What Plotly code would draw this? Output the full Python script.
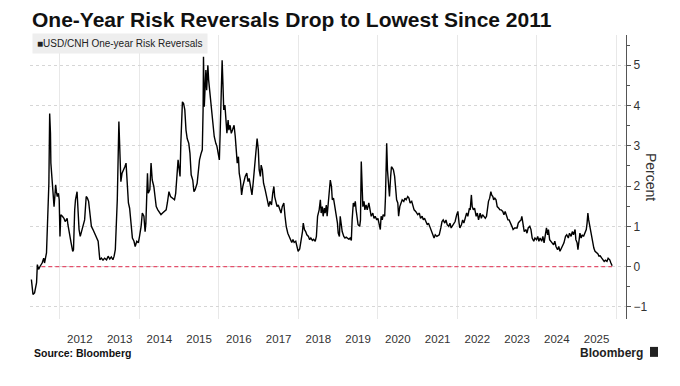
import plotly.graph_objects as go
from datetime import datetime, timedelta

# ---- Data (decimal year, percent) ----
t_2011_13 = [2011.28, 2011.30, 2011.32, 2011.36, 2011.39, 2011.41, 2011.43, 2011.46, 2011.50, 2011.55,
             2011.59, 2011.61, 2011.66, 2011.68, 2011.70, 2011.72, 2011.74, 2011.76, 2011.77, 2011.80,
             2011.82, 2011.85, 2011.87, 2011.89, 2011.91, 2011.93, 2011.96, 2011.98,
             2012.00, 2012.02, 2012.06, 2012.10, 2012.13, 2012.18, 2012.20, 2012.24, 2012.28, 2012.32,
             2012.34, 2012.37, 2012.39, 2012.43, 2012.45, 2012.48, 2012.51, 2012.54, 2012.58, 2012.62,
             2012.66, 2012.69, 2012.72, 2012.76, 2012.79, 2012.83, 2012.87, 2012.91, 2012.96,
             2013.00, 2013.04, 2013.08, 2013.12, 2013.17, 2013.21, 2013.25, 2013.29, 2013.33, 2013.36,
             2013.39, 2013.42, 2013.44, 2013.48, 2013.50, 2013.53, 2013.56, 2013.60, 2013.63, 2013.66, 2013.68]
v_2011_13 = [-0.32, -0.57, -0.69, -0.65, -0.53, -0.40, 0.05, -0.07, 0.01, 0.09,
             0.21, 0.09, 0.34, 0.92, 1.00, 2.07, 3.80, 3.31, 2.57, 2.07,
             1.91, 1.49, 1.74, 2.03, 1.86, 1.74, 1.82, 1.66,
             0.75, 1.29, 1.25, 1.20, 1.12, 1.20, 1.04, 0.75, 0.59, 0.38,
             0.42, 1.41, 1.66, 1.86, 1.49, 0.92, 0.75, 0.87, 1.00, 1.16,
             1.74, 1.70, 1.62, 1.25, 1.00, 0.92, 0.83, 0.75, 0.63,
             0.17, 0.21, 0.16, 0.21, 0.17, 0.26, 0.19, 0.24, 0.17, 0.26,
             0.42, 1.08, 1.66, 3.60, 2.73, 2.11, 2.32, 2.40, 2.48, 2.57, 2.32]

t_2013_16 = [2013.72, 2013.75, 2013.79, 2013.82, 2013.86, 2013.89, 2013.93, 2013.97,
             2014.00, 2014.04, 2014.07, 2014.11, 2014.14, 2014.16, 2014.20, 2014.22, 2014.26, 2014.29,
             2014.32, 2014.36, 2014.39, 2014.42, 2014.46, 2014.50, 2014.54, 2014.58, 2014.62, 2014.67,
             2014.70, 2014.74, 2014.78, 2014.83, 2014.88, 2014.91, 2014.94, 2014.97, 2014.99,
             2015.02, 2015.04, 2015.08, 2015.11, 2015.14, 2015.17, 2015.20, 2015.24, 2015.27, 2015.30,
             2015.34, 2015.37, 2015.40, 2015.45, 2015.48, 2015.51, 2015.55, 2015.58, 2015.60, 2015.61,
             2015.63, 2015.65, 2015.67, 2015.69, 2015.72, 2015.74, 2015.77, 2015.79, 2015.82, 2015.85,
             2015.88, 2015.92, 2015.95, 2015.98,
             2016.01, 2016.03, 2016.06]
v_2013_16 = [1.58, 1.45, 1.00, 0.71, 0.63, 0.50, 0.63, 0.59,
             0.75, 1.00, 1.33, 1.25, 0.87, 1.08, 2.32, 1.82, 1.91, 2.57,
             2.15, 1.99, 1.74, 1.49, 1.41, 1.33, 1.29, 1.33, 1.37, 1.41,
             1.58, 1.86, 1.74, 1.70, 1.66, 1.82, 2.24, 2.65, 2.48,
             2.24, 3.06, 4.09, 4.05, 3.89, 3.39, 3.18, 3.06, 2.81, 2.28,
             2.15, 1.86, 1.91, 2.07, 2.40, 2.65, 2.81, 2.90, 3.89, 5.21,
             3.97, 4.55, 4.88, 4.38, 5.00, 4.63, 4.30, 4.22, 3.89, 3.47,
             3.23, 3.06, 2.98, 2.81,
             2.65, 3.31, 4.22]

t_2016_18 = [2016.08, 2016.10, 2016.12, 2016.15, 2016.18, 2016.20, 2016.23, 2016.25, 2016.28, 2016.31,
             2016.34, 2016.38, 2016.41, 2016.44, 2016.46, 2016.49, 2016.51, 2016.54, 2016.57, 2016.60,
             2016.63, 2016.66, 2016.70, 2016.73, 2016.76, 2016.80, 2016.83, 2016.86, 2016.89, 2016.91,
             2016.94, 2016.96, 2016.99,
             2017.01, 2017.04, 2017.06, 2017.09, 2017.12, 2017.16, 2017.19, 2017.22, 2017.25, 2017.28,
             2017.32, 2017.35, 2017.38, 2017.40, 2017.43, 2017.46, 2017.49, 2017.53, 2017.56, 2017.59,
             2017.63, 2017.66, 2017.69, 2017.73, 2017.76, 2017.79, 2017.83, 2017.86, 2017.89, 2017.93,
             2017.96, 2017.99,
             2018.03, 2018.06, 2018.10, 2018.12, 2018.15, 2018.18, 2018.21, 2018.25, 2018.28, 2018.31,
             2018.35, 2018.38, 2018.42, 2018.45, 2018.48]
v_2016_18 = [5.12, 4.55, 3.89, 4.01, 3.60, 3.31, 3.64, 3.39, 3.51, 3.31,
             3.39, 3.51, 3.23, 2.90, 2.57, 2.73, 2.32, 2.15, 1.78, 1.99,
             2.11, 2.24, 2.32, 2.11, 2.19, 1.91, 1.78, 2.07, 2.40, 2.57,
             2.90, 3.18, 2.90,
             2.40, 2.24, 2.52, 2.40, 2.07, 1.91, 1.74, 1.62, 1.49, 1.62,
             1.53, 1.82, 1.99, 1.74, 1.58, 1.49, 1.53, 1.41, 1.33, 1.49,
             1.58, 1.25, 1.00, 0.83, 0.75, 0.67, 0.60, 0.67, 0.60, 0.63,
             0.50, 0.38,
             0.44, 0.59, 0.87, 1.08, 0.92, 0.87, 0.79, 0.75, 0.67, 0.71,
             0.65, 0.68, 0.63, 0.75, 1.25]

t_2018_20 = [2018.52, 2018.55, 2018.57, 2018.60, 2018.62, 2018.65, 2018.67, 2018.70, 2018.72, 2018.75,
             2018.77, 2018.80, 2018.83, 2018.85, 2018.88, 2018.90, 2018.93, 2018.95, 2018.98,
             2019.00, 2019.03, 2019.05, 2019.08, 2019.10, 2019.14, 2019.17, 2019.20, 2019.24, 2019.27,
             2019.30, 2019.33, 2019.35, 2019.38, 2019.40, 2019.43, 2019.45, 2019.48, 2019.50, 2019.54,
             2019.56, 2019.58, 2019.60, 2019.62, 2019.65, 2019.67, 2019.70, 2019.73, 2019.77, 2019.80,
             2019.83, 2019.87, 2019.90, 2019.93, 2019.97,
             2020.00, 2020.03, 2020.06, 2020.08, 2020.11, 2020.13, 2020.17, 2020.19, 2020.22, 2020.24,
             2020.27, 2020.29, 2020.32, 2020.34, 2020.37, 2020.39, 2020.42, 2020.45, 2020.47, 2020.50,
             2020.52, 2020.55, 2020.58, 2020.61, 2020.65, 2020.68, 2020.71, 2020.75, 2020.78, 2020.81,
             2020.85, 2020.88, 2020.91, 2020.95]
v_2018_20 = [1.41, 1.66, 1.33, 1.49, 1.25, 1.45, 1.33, 1.53, 1.25, 1.66,
             1.82, 2.15, 1.99, 1.66, 1.70, 1.58, 1.49, 1.33, 1.08,
             0.83, 0.75, 1.25, 1.00, 0.87, 0.75, 0.71, 0.73, 0.71, 0.68,
             0.71, 0.65, 1.16, 1.58, 1.49, 1.62, 1.41, 1.16, 1.04, 1.00,
             1.16, 2.61, 1.66, 1.49, 1.62, 1.41, 1.53, 1.41, 1.58, 1.41,
             1.25, 1.33, 1.20, 1.25, 1.16,
             1.20, 1.08, 0.92, 1.25, 1.16, 1.29, 1.25, 1.74, 3.06, 2.40,
             1.99, 1.74, 2.24, 2.48, 2.44, 2.40, 2.24, 1.74, 1.66, 1.58,
             1.25, 1.49, 1.58, 1.66, 1.62, 1.70, 1.66, 1.74, 1.70, 1.58,
             1.62, 1.49, 1.41, 1.37]

t_2021_23 = [2021.00, 2021.04, 2021.07, 2021.11, 2021.14, 2021.17, 2021.21, 2021.24, 2021.27, 2021.31,
             2021.34, 2021.38, 2021.41, 2021.44, 2021.48, 2021.51, 2021.54, 2021.58, 2021.61, 2021.64,
             2021.68, 2021.71, 2021.74, 2021.78, 2021.81, 2021.84, 2021.88, 2021.91, 2021.94, 2021.98,
             2022.01, 2022.04, 2022.06, 2022.10, 2022.13, 2022.16, 2022.20, 2022.23, 2022.26, 2022.30,
             2022.32, 2022.35, 2022.37, 2022.40, 2022.43, 2022.47, 2022.50, 2022.53, 2022.57, 2022.60,
             2022.63, 2022.67, 2022.70, 2022.73, 2022.76, 2022.78, 2022.81, 2022.84, 2022.86, 2022.89,
             2022.91, 2022.94, 2022.97,
             2023.00, 2023.04, 2023.07, 2023.10, 2023.14, 2023.17, 2023.20, 2023.24, 2023.27, 2023.30,
             2023.34, 2023.37, 2023.40, 2023.44]
v_2021_23 = [1.29, 1.33, 1.20, 1.25, 1.16, 1.20, 1.12, 1.04, 1.08, 0.96,
             0.92, 0.79, 0.71, 0.79, 0.75, 0.77, 0.79, 0.96, 1.12, 1.16,
             1.08, 1.16, 1.04, 1.00, 1.08, 0.96, 1.04, 1.08, 1.12, 1.29,
             1.37, 1.08, 0.96, 1.04, 1.16, 1.08, 1.20, 1.33, 1.25, 1.45,
             1.41, 1.78, 1.49, 1.41, 1.45, 1.25, 1.33, 1.16, 1.33, 1.20,
             1.29, 1.25, 1.20, 1.25, 1.49, 1.62, 1.70, 1.86, 1.78, 1.74,
             1.66, 1.70, 1.66,
             1.49, 1.45, 1.41, 1.41, 1.37, 1.29, 1.37, 1.25, 1.16, 1.16,
             1.04, 1.00, 0.92, 0.96]

t_2023_25 = [2023.50, 2023.53, 2023.56, 2023.60, 2023.62, 2023.65, 2023.68, 2023.72, 2023.75, 2023.78,
             2023.82, 2023.85, 2023.88, 2023.92, 2023.95, 2023.99,
             2024.02, 2024.05, 2024.08, 2024.12, 2024.15, 2024.18, 2024.22, 2024.24, 2024.27, 2024.29,
             2024.32, 2024.35, 2024.39, 2024.42, 2024.45, 2024.48, 2024.52, 2024.55, 2024.58, 2024.62,
             2024.65, 2024.68, 2024.72, 2024.75, 2024.79, 2024.82, 2024.86, 2024.89, 2024.92, 2024.96,
             2024.98,
             2025.01, 2025.03, 2025.06, 2025.08, 2025.11, 2025.14, 2025.17, 2025.21, 2025.24, 2025.26,
             2025.28, 2025.30, 2025.33, 2025.35, 2025.38, 2025.40, 2025.43, 2025.46, 2025.50, 2025.53,
             2025.56, 2025.59, 2025.63, 2025.66, 2025.69, 2025.72, 2025.76, 2025.79, 2025.83, 2025.86,
             2025.89]
v_2023_25 = [0.96, 1.08, 1.12, 1.16, 1.25, 1.00, 0.87, 0.92, 0.83, 0.96,
             1.00, 0.92, 0.71, 0.63, 0.71, 0.67,
             0.75, 0.63, 0.71, 0.63, 0.75, 0.59, 0.83, 0.96, 0.79, 0.92,
             0.67, 0.63, 0.59, 0.54, 0.63, 0.50, 0.42, 0.50, 0.38, 0.46,
             0.50, 0.59, 0.75, 0.79, 0.71, 0.83, 0.75, 0.87, 0.79, 0.92,
             0.67,
             0.59, 0.42, 0.71, 0.83, 0.71, 0.79, 0.75, 0.83, 0.92, 1.08,
             1.33, 1.16, 1.00, 0.87, 0.71, 0.54, 0.46, 0.38, 0.35, 0.32,
             0.26, 0.27, 0.21, 0.17, 0.13, 0.16, 0.13, 0.21, 0.17, 0.09,
             0.02]

label_years = list(range(2012, 2026))
zero_line_level = 0.0
zero_line_start = 2011.53
x_range_years = [2011.245, 2026.24]
y_range = [-1.30, 5.75]


def to_date(y):
    yr = int(y)
    return datetime(yr, 1, 1) + timedelta(days=(y - yr) * 365.25)


years = t_2011_13 + t_2013_16 + t_2016_18 + t_2018_20 + t_2021_23 + t_2023_25
values = v_2011_13 + v_2013_16 + v_2016_18 + v_2018_20 + v_2021_23 + v_2023_25
assert len(years) == len(values)
dates = [to_date(y) for y in years]

fig = go.Figure()
fig.add_trace(go.Scatter(
    x=[to_date(zero_line_start), dates[-1]], y=[zero_line_level, zero_line_level],
    mode="lines", line=dict(color="#e4506c", width=1.4, dash="4px,3px"),
    hoverinfo="skip", showlegend=False))
fig.add_trace(go.Scatter(
    x=dates, y=values, mode="lines",
    line=dict(color="#000000", width=1.4),
    name="USD/CNH One-year Risk Reversals", showlegend=False))

font_main = "Liberation Sans, Arial, sans-serif"

fig.update_layout(
    width=680, height=386,
    margin=dict(l=30, r=54, t=35, b=67),
    paper_bgcolor="#ffffff", plot_bgcolor="#ffffff",
    font=dict(family=font_main, color="#333333"),
    title=dict(text="<b>One-Year Risk Reversals Drop to Lowest Since 2011</b>",
               xref="container", x=32 / 680, xanchor="left",
               yref="container", y=1 - 20 / 386, yanchor="middle",
               font=dict(family=font_main, size=21, color="#111111")),
    xaxis=dict(
        type="date",
        range=[to_date(x_range_years[0]), to_date(x_range_years[1])],
        tickmode="array",
        tickvals=[to_date(y + 0.5) for y in label_years],
        ticktext=[str(y) for y in label_years],
        showgrid=False, zeroline=False, showline=False,
        ticks="outside", ticklen=9, tickcolor="rgba(0,0,0,0)",
        tickfont=dict(size=11.5, color="#333333"),
        minor=dict(tickmode="linear", tick0="2012-01-01", dtick="M24",
                   showgrid=True, gridcolor="#e8e8e8", gridwidth=1, ticks=""),
    ),
    yaxis=dict(
        side="right", range=y_range, tick0=0, dtick=1,
        showgrid=True, gridcolor="#d6d6d6", griddash="dot", gridwidth=1,
        zeroline=False, showline=True, linecolor="#555555", linewidth=1,
        ticks="outside", ticklen=4, tickcolor="#555555",
        tickfont=dict(size=12, color="#333333"),
        minor=dict(dtick=0.5, ticks="outside", ticklen=3, tickcolor="#555555", showgrid=False),
    ),
    annotations=[
        dict(text="■USD/CNH One-year Risk Reversals", xref="paper", yref="paper",
             x=2 / 596, y=(320 - 44) / 285, xanchor="left", yanchor="middle",
             showarrow=False, bgcolor="#eeeeee", borderpad=4,
             font=dict(family=font_main, size=10, color="#222222")),
        dict(text="Percent", xref="paper", yref="paper",
             x=(651 - 30) / 596, y=0.5, xanchor="center", yanchor="middle",
             textangle=90, showarrow=False,
             font=dict(family=font_main, size=14, color="#333333")),
        dict(text="<b>Source: Bloomberg</b>", xref="paper", yref="paper",
             x=2 / 596, y=(320 - 354) / 285, xanchor="left", yanchor="middle",
             showarrow=False, font=dict(family=font_main, size=10.5, color="#111111")),
        dict(text="<b>Bloomberg</b>", xref="paper", yref="paper",
             x=(645 - 30) / 596, y=(320 - 354) / 285, xanchor="right", yanchor="middle",
             showarrow=False, font=dict(family=font_main, size=12, color="#222222")),
    ],
    shapes=[
        dict(type="rect", xref="paper", yref="paper",
             x0=(650 - 30) / 596, x1=(658 - 30) / 596,
             y0=(320 - 358) / 285, y1=(320 - 348) / 285,
             fillcolor="#222222", line=dict(width=0)),
    ],
)

fig.write_html("out.html", config={"displayModeBar": False},
               post_script="document.body.style.margin='0';")
